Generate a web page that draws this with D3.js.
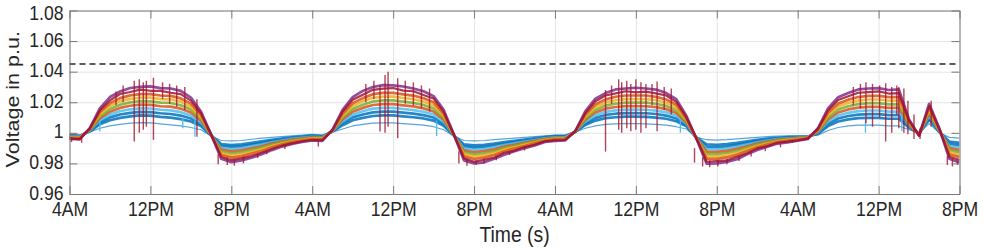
<!DOCTYPE html>
<html>
<head>
<meta charset="utf-8">
<script src="https://cdn.jsdelivr.net/npm/d3@7"></script>
<style>
  body { margin: 0; background: #ffffff; }
  text { font-family: "Liberation Sans", Arial, sans-serif; fill: #262626; }
</style>
</head>
<body>
<div id="container"></div>
<script>
let w = 983;
let h = 249;

// hourly samples, 0 = 4AM of the first day, 88 = 8PM of the fourth day
let hours = d3.range(0, 89);

let xTicks = [0, 8, 16, 24, 32, 40, 48, 56, 64, 72, 80, 88];
let xTickLabels = ["4AM", "12PM", "8PM", "4AM", "12PM", "8PM", "4AM", "12PM", "8PM", "4AM", "12PM", "8PM"];
let yTicks = [0.96, 0.98, 1, 1.02, 1.04, 1.06, 1.08];
let yTickLabels = ["0.96", "0.98", "1", "1.02", "1.04", "1.06", "1.08"];

// upper voltage limit (dashed line)
let voltageLimit = 1.045;

// node voltages, one value per hour,
// written as deviation from 1 p.u. in units of 0.001 p.u.
let node1 = [
  -1,-1.5,0.5,3,4.5,5.5,6.3,6.7,6.5,5.8,5.2,4.5,3.5,2,-2,-5,-5.2,-5,-4.2,-3.5,-3,-2.5,-2,-1.5,
  -1,-1.5,0.5,2.5,4.5,5.5,6.3,6.5,6.5,6,5.5,5,4,2,-2,-5,-5.3,-5,-4.5,-4,-3.5,-3,-2.5,-2,
  -1.5,-1.5,0.5,3,4.5,5.5,5.8,6,6,5.8,5.5,5,4,2.5,-3,-4.5,-4.8,-4.5,-4,-3.5,-3,-2.5,-2.2,-2,
  -2,-2,-1.5,1.5,3.5,4.5,5,5,5,4.5,4.5,2,0,6,0,-3,-3.5
];
let node2 = [
  -1.6,-2.0,1.0,5.6,8.2,9.8,10.8,11.4,11.2,10.4,10.0,9.0,7.4,4.4,-1.8,-7.4,-8.0,-7.6,-6.6,-5.6,-4.6,-3.8,-3.0,-2.4,
  -1.8,-2.2,0.8,5.0,8.2,9.8,11.0,11.4,11.4,10.8,10.2,9.4,8.0,4.6,-1.8,-7.6,-8.2,-7.8,-7.0,-6.0,-5.2,-4.4,-3.6,-2.8,
  -2.2,-2.2,0.6,5.2,8.0,9.6,10.2,10.6,10.6,10.4,10.0,9.2,7.6,4.2,-3.2,-7.6,-7.8,-7.4,-6.6,-5.6,-4.6,-3.8,-3.2,-2.8,
  -2.6,-2.4,-0.6,4.4,7.4,8.8,9.6,9.8,9.8,9.2,9.2,3.4,-0.4,8.6,0.6,-5.8,-6.6
];
let node3 = [
  -1.9,-2.3,1.3,6.9,10.1,12.0,13.1,13.7,13.6,12.8,12.3,11.3,9.4,5.6,-1.7,-8.6,-9.3,-8.9,-7.7,-6.7,-5.4,-4.5,-3.5,-2.9,
  -2.2,-2.6,1.0,6.3,10.1,12.0,13.4,13.9,13.9,13.2,12.6,11.6,10.0,5.9,-1.7,-8.9,-9.7,-9.2,-8.3,-7.0,-6.1,-5.1,-4.2,-3.2,
  -2.6,-2.6,0.7,6.3,9.8,11.7,12.5,12.9,12.9,12.8,12.3,11.3,9.4,5.1,-3.3,-9.2,-9.4,-8.9,-7.9,-6.7,-5.4,-4.5,-3.6,-3.2,
  -2.9,-2.6,-0.2,5.9,9.4,11.0,11.9,12.2,12.2,11.6,11.6,4.1,-0.6,9.9,0.9,-7.2,-8.2
];
let node4 = [
  -2.2,-2.5,1.5,8.2,11.9,14.1,15.4,16.0,15.9,15.1,14.7,13.5,11.3,6.8,-1.6,-9.8,-10.7,-10.2,-8.9,-7.7,-6.2,-5.1,-4.0,-3.3,
  -2.6,-2.9,1.1,7.5,11.9,14.1,15.8,16.3,16.3,15.6,14.9,13.8,12.0,7.2,-1.6,-10.2,-11.2,-10.6,-9.5,-8.0,-6.9,-5.8,-4.7,-3.6,
  -2.9,-2.9,0.7,7.4,11.5,13.7,14.7,15.2,15.2,15.1,14.5,13.4,11.2,5.9,-3.4,-10.7,-10.9,-10.3,-9.2,-7.7,-6.2,-5.1,-4.1,-3.6,
  -3.2,-2.8,0.3,7.3,11.3,13.1,14.2,14.6,14.6,13.9,13.9,4.8,-0.8,11.2,1.2,-8.6,-9.7
];
let node5 = [
  -2.5,-2.8,1.8,9.5,13.8,16.3,17.7,18.4,18.3,17.4,17.1,15.8,13.3,8.0,-1.5,-11.0,-12.1,-11.5,-10.1,-8.8,-7.0,-5.8,-4.5,-3.8,
  -3.0,-3.3,1.3,8.8,13.8,16.3,18.2,18.8,18.8,18.0,17.3,16.0,14.0,8.5,-1.5,-11.5,-12.7,-12.0,-10.8,-9.0,-7.8,-6.5,-5.3,-4.0,
  -3.3,-3.3,0.8,8.5,13.3,15.8,16.9,17.5,17.5,17.4,16.8,15.5,13.0,6.8,-3.5,-12.3,-12.4,-11.8,-10.5,-8.8,-7.0,-5.8,-4.6,-4.0,
  -3.5,-3.0,0.8,8.8,13.3,15.3,16.5,17.0,17.0,16.3,16.3,5.5,-1.0,12.5,1.5,-10.0,-11.3
];
let node6 = [
  -2.8,-3.0,2.0,10.8,15.6,18.4,19.9,20.7,20.6,19.7,19.5,18.0,15.2,9.2,-1.4,-12.2,-13.5,-12.8,-11.3,-9.8,-7.8,-6.4,-5.0,-4.2,
  -3.4,-3.6,1.4,10.0,15.6,18.4,20.5,21.2,21.2,20.4,19.6,18.2,16.0,9.8,-1.4,-12.8,-14.1,-13.4,-12.0,-10.0,-8.6,-7.2,-5.8,-4.4,
  -3.6,-3.6,0.8,9.6,15.0,17.8,19.1,19.8,19.8,19.7,19.0,17.6,14.8,7.6,-3.6,-13.8,-13.9,-13.2,-11.8,-9.8,-7.8,-6.4,-5.1,-4.4,
  -3.8,-3.2,1.2,10.2,15.2,17.4,18.8,19.4,19.4,18.6,18.6,6.2,-1.2,13.8,1.8,-11.4,-12.8
];
let node7 = [
  -3.1,-3.3,2.3,12.1,17.5,20.6,22.2,23.0,23.0,22.0,21.9,20.3,17.2,10.4,-1.3,-13.4,-14.9,-14.1,-12.5,-10.9,-8.6,-7.1,-5.5,-4.7,
  -3.8,-4.0,1.6,11.3,17.5,20.6,22.9,23.7,23.7,22.8,22.0,20.4,18.0,11.1,-1.3,-14.1,-15.6,-14.8,-13.3,-11.0,-9.5,-7.9,-6.4,-4.8,
  -4.0,-4.0,0.9,10.7,16.8,19.9,21.3,22.1,22.1,22.0,21.3,19.7,16.6,8.5,-3.7,-15.4,-15.4,-14.7,-13.1,-10.9,-8.6,-7.1,-5.6,-4.8,
  -4.1,-3.4,1.7,11.7,17.2,19.6,21.1,21.8,21.8,21.0,21.0,6.9,-1.4,15.1,2.1,-12.8,-14.4
];
let node8 = [
  -3.4,-3.5,2.5,13.4,19.3,22.7,24.5,25.3,25.3,24.4,24.2,22.5,19.1,11.6,-1.2,-14.6,-16.2,-15.4,-13.6,-11.9,-9.4,-7.7,-6.0,-5.1,
  -4.2,-4.3,1.7,12.5,19.3,22.7,25.3,26.1,26.1,25.2,24.3,22.6,20.0,12.4,-1.2,-15.4,-17.1,-16.2,-14.5,-12.0,-10.3,-8.6,-6.9,-5.2,
  -4.3,-4.3,0.9,11.8,18.5,21.9,23.6,24.4,24.4,24.4,23.5,21.8,18.4,9.3,-3.8,-16.9,-17.0,-16.1,-14.4,-11.9,-9.4,-7.7,-6.0,-5.2,
  -4.4,-3.6,2.1,13.1,19.1,21.7,23.4,24.2,24.2,23.3,23.3,7.6,-1.6,16.4,2.4,-14.2,-15.9
];
let node9 = [
  -3.7,-4.2,2.8,14.7,21.2,25.4,26.7,28.3,27.5,27.4,26.2,25.3,21.1,12.8,-1.1,-15.8,-17.9,-16.7,-15.2,-13.0,-10.6,-8.4,-6.9,-5.6,
  -4.6,-5.0,1.9,13.8,21.6,24.9,28.1,28.9,29.3,27.6,27.2,24.8,22.4,13.7,-1.1,-16.7,-18.9,-17.6,-16.2,-13.0,-11.6,-9.3,-7.8,-5.6,
  -4.9,-4.7,1.0,12.9,20.7,24.4,25.8,27.2,26.5,27.0,25.8,24.4,20.2,10.2,-3.9,-18.9,-18.5,-18.0,-15.7,-13.4,-10.2,-8.8,-6.5,-5.8,
  -4.9,-3.8,2.6,14.6,21.5,23.9,26.2,26.6,27.1,25.7,26.0,8.3,-1.8,17.7,2.7,-15.6,-17.8
];
let node10 = [
  -4,-4.3,3,16,23.4,27,29.3,30,30.4,29.2,29,27.4,23,14,-1,-17,-19.2,-18,-16.3,-14,-11.3,-9,-7.2,-6,
  -5,-5.2,2,15,23.3,27.4,30,31.2,31,30.3,29,27.2,24,15,-1,-18,-20,-19.3,-17,-14.4,-12,-10,-8.2,-6,
  -5.2,-5,1,14,22.4,26,28.4,29,29.5,29,28.3,26,22,11,-4,-20.2,-20,-19,-17.3,-14,-11.2,-9,-7,-6.2,
  -5.2,-4,3,16,23.3,26,28.4,29,29.2,28,28.4,9,-2,19,3,-17,-19.4
];

// short spikes seen in the picture (time in hours, lowest and highest p.u.)
let redSpikeHours = [0.2, 1.2, 4.6, 5.3, 6.4, 6.9, 7.3, 7.6, 8.3, 9.2, 9.9, 10.6, 11.4, 12.6,
  14.7, 15.6, 16.3, 17.2, 18.6, 19.5, 21.3,
  24.6, 29.3, 30.1, 30.7, 31.2, 31.5, 32.45, 33.2, 34.0, 34.8, 35.6,
  38.5, 39.3, 40.2, 41.0, 42.2, 43.5, 45.0,
  53.0, 53.6, 54.3, 54.6, 55.1, 55.5, 56.0, 56.5, 57.0, 57.6, 58.1, 58.8, 59.5,
  61.8, 62.6, 63.3, 64.1, 65.0, 66.2, 67.4, 68.8, 70.3, 71.5,
  77.5, 78.2, 78.75, 79.4, 80.1, 80.7, 81.3, 81.8, 82.0, 82.5, 82.9, 83.5, 84.1, 85.2, 86.8, 87.3, 87.8];
let redSpikeLow = [0.994, 0.9935, 1.018, 1.020, 0.9943, 1.000, 1.002, 1.004, 0.9954, 1.022, 1.019, 1.017, 1.015, 0.9975,
  0.9795, 0.979, 0.9785, 0.980, 0.9835, 0.986, 0.9895,
  0.991, 1.020, 1.022, 1.0008, 1.000, 1.004, 0.9965, 1.019, 1.018, 1.016, 1.014,
  0.980, 0.9785, 0.979, 0.980, 0.982, 0.9855, 0.9885,
  0.9877, 1.019, 1.002, 1.000, 1.003, 1.001, 1.002, 1.000, 1.003, 1.018, 1.001, 1.015, 1.012,
  0.9805, 0.978, 0.9775, 0.978, 0.9795, 0.9815, 0.9845, 0.988, 0.9905, 0.9935,
  1.018, 1.016, 1.0063, 1.004, 1.010, 0.9943, 1.000, 1.012, 1.003, 1.000, 0.999, 0.996, 0.996, 1.004, 0.979, 0.978, 0.979];
let redSpikeHigh = [0.997, 0.997, 1.027, 1.031, 1.034, 1.035, 1.033, 1.034, 1.036, 1.033, 1.032, 1.031, 1.030, 1.022,
  0.986, 0.984, 0.983, 0.9845, 0.9865, 0.9885, 0.992,
  0.996, 1.032, 1.034, 1.0313, 1.0378, 1.040, 1.0357, 1.034, 1.033, 1.031, 1.029,
  0.988, 0.983, 0.982, 0.983, 0.985, 0.988, 0.991,
  1.028, 1.031, 1.035, 1.033, 1.034, 1.032, 1.035, 1.033, 1.032, 1.032, 1.0335, 1.030, 1.029,
  0.990, 0.984, 0.982, 0.982, 0.983, 0.985, 0.987, 0.990, 0.993, 0.995,
  1.030, 1.032, 1.033, 1.032, 1.031, 1.0324, 1.030, 1.031, 1.030, 1.029, 1.021, 1.012, 1.003, 1.021, 0.985, 0.983, 0.982];
let blueSpikeHours = [3.0, 11.2, 12.4, 36.3, 60.4, 78.7, 82.3];
let blueSpikeLow = [1.0008, 1.003, 0.9975, 0.998, 1.000, 1.000, 1.001];
let blueSpikeHigh = [1.008, 1.010, 1.008, 1.008, 1.009, 1.010, 1.012];

// drawing order follows the picture: red drawn over purple
let seriesList = [
  {values: node1, color: "#3a94d4", width: 1.2},
  {values: node2, color: "#0072BD", width: 2.7},
  {values: node3, color: "#0072BD", width: 2.7},
  {values: node4, color: "#4DBEEE", width: 2.7},
  {values: node5, color: "#D95319", width: 2.7},
  {values: node6, color: "#77AC30", width: 2.7},
  {values: node7, color: "#EDB120", width: 2.7},
  {values: node8, color: "#D95319", width: 2.7},
  {values: node10, color: "#7E2F8E", width: 2.7},
  {values: node9, color: "#A2142F", width: 2.2}
];

let margin = {left: 69.5, right: 23.5, top: 10.5, bottom: 55};
let plotW = w - margin.left - margin.right;
let plotH = h - margin.top - margin.bottom;

let viz = d3.select("#container")
  .append("svg")
    .attr("width", w)
    .attr("height", h)
;

let xScale = d3.scaleLinear().domain([0, 88]).range([margin.left, w - margin.right]);
let yScale = d3.scaleLinear().domain([0.96, 1.08]).range([h - margin.bottom, margin.top]);

viz.append("defs").append("clipPath").attr("id", "plotclip")
  .append("rect")
    .attr("x", margin.left)
    .attr("y", margin.top)
    .attr("width", plotW)
    .attr("height", plotH);

// grid
let xGrid = viz.append("g")
  .attr("transform", "translate(0," + (h - margin.bottom) + ")")
  .call(d3.axisBottom(xScale).tickValues(xTicks).tickSize(-plotH).tickFormat(""));
let yGrid = viz.append("g")
  .attr("transform", "translate(" + margin.left + ",0)")
  .call(d3.axisLeft(yScale).tickValues(yTicks).tickSize(-plotW).tickFormat(""));
viz.selectAll(".domain").remove();
xGrid.selectAll("line").attr("stroke", "#e4e4e4");
yGrid.selectAll("line").attr("stroke", "#e4e4e4");

// voltage lines
let vizgroup = viz.append("g").attr("clip-path", "url(#plotclip)");

let line = d3.line()
  .x(function(d, i){ return xScale(hours[i]); })
  .y(function(d){ return yScale(1 + d / 1000); });

vizgroup.selectAll(".node").data(seriesList).enter()
  .append("path")
    .attr("class", "node")
    .attr("d", function(d){ return line(d.values); })
    .attr("fill", "none")
    .attr("stroke", function(d){ return d.color; })
    .attr("stroke-width", function(d){ return d.width; })
    .attr("stroke-linejoin", "round")
    .attr("opacity", 0.85)
;

vizgroup.selectAll(".bluespike").data(blueSpikeHours).enter()
  .append("line")
    .attr("class", "bluespike")
    .attr("x1", function(d){ return xScale(d); })
    .attr("x2", function(d){ return xScale(d); })
    .attr("y1", function(d, i){ return yScale(blueSpikeLow[i]); })
    .attr("y2", function(d, i){ return yScale(blueSpikeHigh[i]); })
    .attr("stroke", "#4DBEEE")
    .attr("stroke-width", 1.3)
;

vizgroup.selectAll(".redspike").data(redSpikeHours).enter()
  .append("line")
    .attr("class", "redspike")
    .attr("x1", function(d){ return xScale(d); })
    .attr("x2", function(d){ return xScale(d); })
    .attr("y1", function(d, i){ return yScale(redSpikeLow[i]); })
    .attr("y2", function(d, i){ return yScale(redSpikeHigh[i]); })
    .attr("stroke", "#A2142F")
    .attr("stroke-width", 1.4)
    .attr("opacity", 0.8)
;

// dashed limit
viz.append("line")
  .attr("x1", xScale(0))
  .attr("x2", xScale(88))
  .attr("y1", yScale(voltageLimit))
  .attr("y2", yScale(voltageLimit))
  .attr("stroke", "#262626")
  .attr("stroke-width", 1.3)
  .attr("stroke-dasharray", "6,4");

// axes, ticks point inwards like matlab
let axisColor = "#7a7a7a";

let xAxisGroup = viz.append("g")
  .attr("class", "xaxis")
  .attr("transform", "translate(0," + (h - margin.bottom) + ")")
  .call(d3.axisBottom(xScale).tickValues(xTicks)
    .tickFormat(function(d, i){ return xTickLabels[i]; })
    .tickSizeInner(-8).tickSizeOuter(0));
xAxisGroup.selectAll("text")
  .attr("y", 22.5)
  .attr("dy", 0)
  .attr("transform", "scale(0.88,1)")
  .style("font-size", "20px");

let yAxisGroup = viz.append("g")
  .attr("class", "yaxis")
  .attr("transform", "translate(" + margin.left + ",0)")
  .call(d3.axisLeft(yScale).tickValues(yTicks)
    .tickFormat(function(d, i){ return yTickLabels[i]; })
    .tickSizeInner(-8).tickSizeOuter(0));
// the top label sits a little lower in the picture, keeping it inside the frame
yAxisGroup.selectAll("text")
  .attr("x", 0)
  .attr("dy", "0.3em")
  .attr("transform", function(d){ return "translate(-6," + (d === 1.08 ? 2.5 : -1) + ") scale(0.88,1)"; })
  .style("font-size", "20px");

let topAxis = viz.append("g")
  .attr("transform", "translate(0," + margin.top + ")")
  .call(d3.axisTop(xScale).tickValues(xTicks).tickFormat("").tickSizeInner(-8).tickSizeOuter(0));
let rightAxis = viz.append("g")
  .attr("transform", "translate(" + (w - margin.right) + ",0)")
  .call(d3.axisRight(yScale).tickValues(yTicks).tickFormat("").tickSizeInner(-8).tickSizeOuter(0));

[xAxisGroup, yAxisGroup, topAxis, rightAxis].forEach(function(g){
  g.selectAll(".domain").attr("stroke", axisColor);
  g.selectAll(".tick line").attr("stroke", axisColor);
  g.selectAll(".tick text").attr("fill", "#262626");
});

// axis titles
viz.append("text")
  .attr("transform", "translate(" + (margin.left + plotW / 2) + ",242) scale(0.88,1)")
  .attr("text-anchor", "middle")
  .style("font-size", "22px")
  .text("Time (s)");

viz.append("text")
  .attr("transform", "translate(18.5," + (margin.top + plotH / 2 - 3) + ") scale(0.88,1) rotate(-90)")
  .attr("text-anchor", "middle")
  .style("font-size", "21.5px")
  .text("Voltage in p.u.");
</script>
</body>
</html>
